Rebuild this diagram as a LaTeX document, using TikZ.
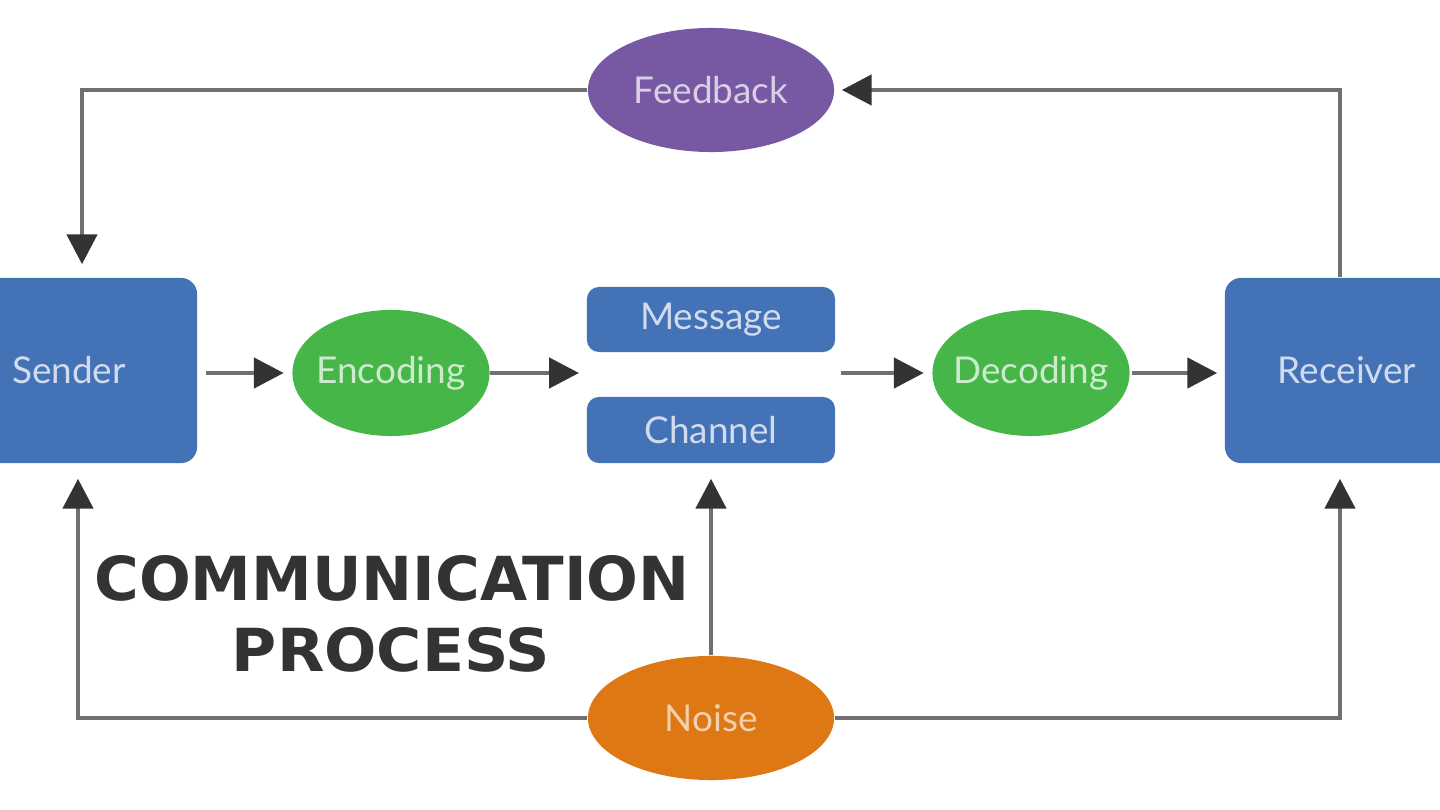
\documentclass[tikz,border=0pt]{standalone}
\usepackage{graphicx}
\usepackage{fontspec}
\setmainfont{Lato}
\newfontfamily\titlefont{DejaVu Sans}
\usetikzlibrary{shapes.geometric,arrows.meta}
\definecolor{boxblue}{HTML}{4472B6}
\definecolor{okgreen}{HTML}{46B649}
\definecolor{fbpurple}{HTML}{7658A3}
\definecolor{noiseorange}{HTML}{DE7814}
\definecolor{linegray}{HTML}{707070}
\definecolor{tipgray}{HTML}{333333}
\begin{document}
\begin{tikzpicture}[x=0.01cm,y=-0.01cm,
  lbl/.style={font=\fontsize{10.5}{12}\selectfont},
  blk/.style={lbl, draw=none, fill=boxblue, rounded corners=0.16cm, text=white!75!boxblue, inner sep=0pt},
  ell/.style={lbl, ellipse, draw=none, inner xsep=-0.3cm, inner ysep=0pt},
  conn/.style={draw=linegray, line width=1.4pt, -{Triangle[length=8.5pt,width=8.5pt,color=tipgray]}},
  ttl/.style={font=\titlefont\bfseries, text=tipgray, inner sep=0pt}
]
\useasboundingbox (0,0) rectangle (1440,810);
\fill[white] (0,0) rectangle (1440,810);

% nodes
\node[blk, minimum width=2.56cm, minimum height=1.85cm] (sender) at (69,370.5) {Sender};
\node[blk, minimum width=2.44cm, minimum height=1.85cm] (receiver) at (1347,370.5) {Receiver};
\node[blk, minimum width=2.48cm, minimum height=0.65cm, rounded corners=0.12cm] (message) at (711,319.5) {Message};
\node[blk, minimum width=2.48cm, minimum height=0.66cm, rounded corners=0.12cm] (channel) at (711,430) {Channel};
\node[ell, fill=okgreen, text=white!72!okgreen, minimum width=1.97cm, minimum height=1.26cm] (encoding) at (391,373) {Encoding};
\node[ell, fill=okgreen, text=white!72!okgreen, minimum width=1.97cm, minimum height=1.26cm] (decoding) at (1031,373) {Decoding};
\node[ell, fill=fbpurple, text=white!72!fbpurple, minimum width=2.46cm, minimum height=1.24cm] (feedback) at (711,90) {Feedback};
\node[ell, fill=noiseorange, text=white!65!noiseorange, minimum width=2.46cm, minimum height=1.24cm] (noise) at (711,718) {Noise};

\coordinate (mcL) at (580,373);
\coordinate (mcR) at (841,373);

% title
\node[ttl] (title1) at (392,578) {\resizebox{5.95cm}{0.45cm}{COMMUNICATION}};
\node[ttl] (title2) at (391,650) {\resizebox{3.18cm}{0.44cm}{PROCESS}};

% connectors
\draw[conn, shorten <=0.08cm, shorten >=0.08cm] (sender.east |- encoding) -- (encoding.west);
\draw[conn, shorten >=0.01cm] (encoding.east) -- (mcL);
\draw[conn, shorten >=0.08cm] (mcR) -- (decoding.west);
\draw[conn, shorten <=0.02cm, shorten >=0.07cm] (decoding.east) -- (receiver.west |- decoding);
\draw[conn, shorten >=0.07cm] ([xshift=-0.07cm]receiver.north) |- (feedback.east);
\draw[conn, shorten >=0.13cm] (feedback.west) -| ([xshift=0.13cm]sender.north);
\draw[conn, shorten >=0.15cm] (noise.west) -| ([xshift=0.09cm]sender.south);
\draw[conn, shorten >=0.15cm] (noise.north) -- (channel.south);
\draw[conn, shorten >=0.15cm] (noise.east) -| ([xshift=-0.07cm]receiver.south);
\end{tikzpicture}
\end{document}
